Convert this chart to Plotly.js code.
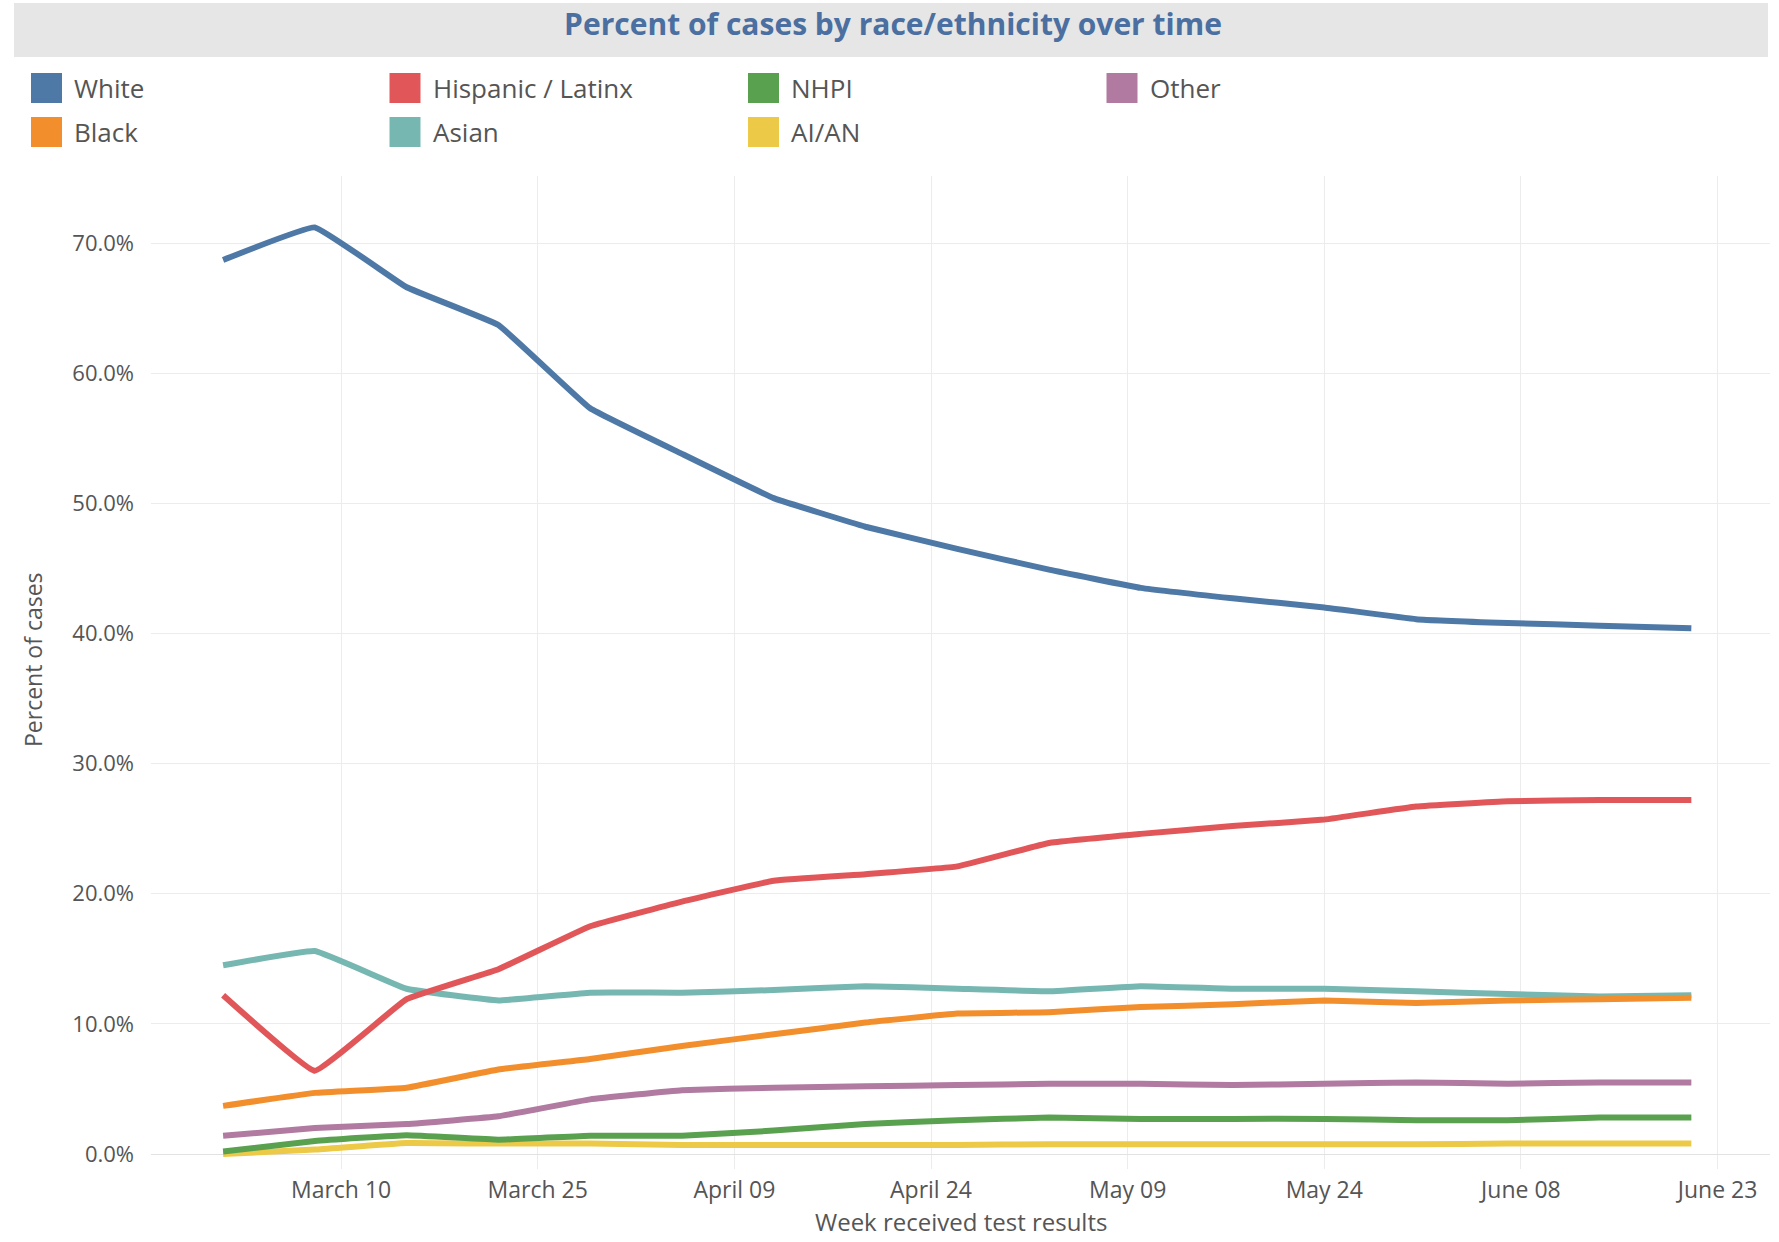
<!DOCTYPE html>
<html>
<head>
<meta charset="utf-8">
<script src="https://cdn.plot.ly/plotly-3.0.1.min.js"></script>
<style>
html,body{margin:0;padding:0;background:#ffffff;}
#chart{width:1779px;height:1242px;}
</style>
</head>
<body>
<div id="chart"></div>
<script>
// ---------- DATA ----------
const weeks = ['2020-03-01','2020-03-08','2020-03-15','2020-03-22','2020-03-29','2020-04-05','2020-04-12','2020-04-19','2020-04-26','2020-05-03','2020-05-10','2020-05-17','2020-05-24','2020-05-31','2020-06-07','2020-06-14','2020-06-21'];

const white    = [68.7, 71.2, 66.6, 63.7, 57.3, 53.8, 50.4, 48.2, 46.5, 44.9, 43.5, 42.7, 42.0, 41.1, 40.8, 40.6, 40.4];
const hispanic = [12.2, 6.4, 11.9, 14.2, 17.5, 19.4, 21.0, 21.5, 22.1, 23.9, 24.6, 25.2, 25.7, 26.7, 27.1, 27.2, 27.2];
const nhpi     = [0.2, 1.0, 1.45, 1.1, 1.4, 1.4, 1.8, 2.3, 2.6, 2.8, 2.7, 2.7, 2.7, 2.6, 2.6, 2.8, 2.8];
const other    = [1.4, 2.0, 2.3, 2.9, 4.2, 4.9, 5.1, 5.2, 5.3, 5.4, 5.4, 5.3, 5.4, 5.5, 5.4, 5.5, 5.5];
const black    = [3.7, 4.7, 5.1, 6.5, 7.3, 8.3, 9.2, 10.1, 10.8, 10.9, 11.3, 11.5, 11.8, 11.6, 11.8, 11.9, 12.0];
const asian    = [14.5, 15.6, 12.7, 11.8, 12.4, 12.4, 12.6, 12.9, 12.7, 12.5, 12.9, 12.7, 12.7, 12.5, 12.3, 12.1, 12.2];
const aian     = [0.0, 0.35, 0.85, 0.8, 0.8, 0.7, 0.7, 0.7, 0.7, 0.75, 0.75, 0.75, 0.75, 0.75, 0.8, 0.8, 0.8];

const seriesNames  = ['White', 'Hispanic / Latinx', 'NHPI', 'Other', 'Black', 'Asian', 'AI/AN'];
const seriesValues = [white, hispanic, nhpi, other, black, asian, aian];
const seriesColors = ['#4e79a7', '#e15759', '#59a14f', '#b07aa1', '#f28e2b', '#76b7b2', '#edc948'];
// drawing order (bottom to top)
const drawOrder = ['Other', 'Asian', 'AI/AN', 'NHPI', 'Black', 'Hispanic / Latinx', 'White'];

const tickDates  = ['2020-03-10','2020-03-25','2020-04-09','2020-04-24','2020-05-09','2020-05-24','2020-06-08','2020-06-23'];
const tickLabels = ['March 10','March 25','April 09','April 24','May 09','May 24','June 08','June 23'];
const yTicks     = [0, 10, 20, 30, 40, 50, 60, 70];
const yTickLabels = ['0.0%','10.0%','20.0%','30.0%','40.0%','50.0%','60.0%','70.0%'];

const chartTitle = 'Percent of cases by race/ethnicity over time';
const xTitle = 'Week received test results';
const yTitle = 'Percent of cases';

// ---------- LAYOUT GEOMETRY ----------
const WIDTH = 1779, HEIGHT = 1242;
const M = {l: 151, r: 9, t: 176, b: 73};
const PW = WIDTH - M.l - M.r, PH = HEIGHT - M.t - M.b;
const px2x = p => (p - M.l) / PW;
const py2y = p => 1 - (p - M.t) / PH;
const FONT = 'Open Sans, sans-serif';
const TXT = '#555555';

// ---------- TRACES ----------
const traces = drawOrder.map(name => {
  const i = seriesNames.indexOf(name);
  return {
    type: 'scatter',
    mode: 'lines',
    name: name,
    x: weeks,
    y: seriesValues[i],
    line: {color: seriesColors[i], width: 6, shape: 'spline', smoothing: 0.25},
    showlegend: false,
    hovertemplate: name + ': %{y:.1f}%<extra></extra>'
  };
});

// ---------- SHAPES / ANNOTATIONS (title band + legend + axis titles) ----------
const shapes = [{
  type: 'rect', xref: 'paper', yref: 'paper', layer: 'below',
  x0: px2x(14), x1: px2x(1768), y0: py2y(57), y1: py2y(3),
  fillcolor: '#e6e6e6', line: {width: 0}
}];
const annotations = [];
const legendCols = 4, colStart = 31, colStep = 358.5, rowTops = [73, 117], sw = 31, sh = 30;
seriesNames.forEach((name, i) => {
  const col = i % legendCols, row = Math.floor(i / legendCols);
  const x0 = colStart + col * colStep, y0 = rowTops[row];
  shapes.push({
    type: 'rect', xref: 'paper', yref: 'paper',
    x0: px2x(x0), x1: px2x(x0 + sw), y0: py2y(y0 + sh), y1: py2y(y0),
    fillcolor: seriesColors[i], line: {width: 0}
  });
  annotations.push({
    xref: 'paper', yref: 'paper', x: px2x(x0 + 41), y: py2y(y0 + sh / 2),
    xanchor: 'left', yanchor: 'middle', showarrow: false,
    text: name, font: {family: FONT, size: 26, color: TXT}
  });
});
annotations.push({
  xref: 'paper', yref: 'paper', x: px2x(33), y: py2y(660),
  xanchor: 'center', yanchor: 'middle', showarrow: false, textangle: -90,
  text: yTitle, font: {family: FONT, size: 23, color: TXT}
});
annotations.push({
  xref: 'paper', yref: 'paper', x: 0.5, y: py2y(1240),
  xanchor: 'center', yanchor: 'bottom', showarrow: false,
  text: xTitle, font: {family: FONT, size: 24, color: TXT}
});

const layout = {
  width: WIDTH, height: HEIGHT,
  margin: M,
  paper_bgcolor: '#ffffff', plot_bgcolor: '#ffffff',
  showlegend: false,
  title: {
    text: chartTitle,
    xref: 'container', yref: 'container',
    x: 893 / WIDTH, y: 1 - 24 / HEIGHT, xanchor: 'center', yanchor: 'middle',
    font: {family: FONT, size: 30, color: '#4a6fa0', weight: 700}
  },
  xaxis: {
    type: 'date',
    range: ['2020-02-24 12:00', '2020-06-27'],
    tickmode: 'array', tickvals: tickDates, ticktext: tickLabels,
    showgrid: true, gridcolor: '#ececec', gridwidth: 1,
    showline: false, zeroline: false, ticks: '',
    tickfont: {family: FONT, size: 23, color: TXT},
    ticklabelstandoff: 5
  },
  yaxis: {
    range: [-1.15, 75.15],
    tickmode: 'array', tickvals: yTicks, ticktext: yTickLabels,
    showgrid: true, gridcolor: '#ececec', gridwidth: 1,
    zeroline: true, zerolinecolor: '#e2e2e2', zerolinewidth: 1,
    showline: false, ticks: '',
    tickfont: {family: FONT, size: 22, color: TXT},
    ticklabelstandoff: 16
  },
  shapes: shapes,
  annotations: annotations
};

Plotly.newPlot('chart', traces, layout, {displayModeBar: false, staticPlot: true});
</script>
</body>
</html>
